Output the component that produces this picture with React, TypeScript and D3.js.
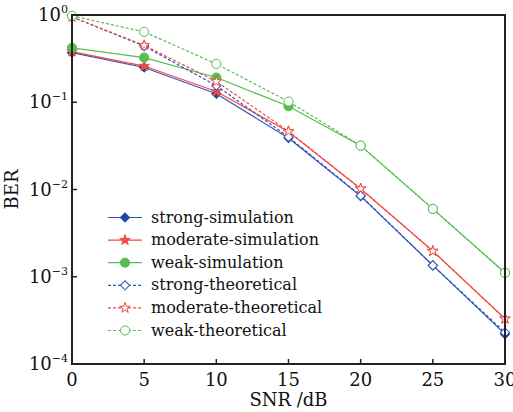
import React from "react";
import * as d3 from "d3";

const snr = [0, 5, 10, 15, 20, 25, 30];
const strongSim = [0.37, 0.25, 0.125, 0.039, 0.0084, 0.00135, 0.00022];
const moderateSim = [0.38, 0.26, 0.133, 0.046, 0.0102, 0.00197, 0.00033];
const weakSim = [0.42, 0.325, 0.192, 0.09, 0.0318, 0.006, 0.00111];
const strongTheo = [0.95, 0.44, 0.155, 0.04, 0.0085, 0.00135, 0.00023];
const moderateTheo = [0.95, 0.45, 0.173, 0.0465, 0.0102, 0.00197, 0.00033];
const weakTheo = [0.98, 0.64, 0.275, 0.102, 0.0318, 0.006, 0.00111];
const yTicks = [1, 0.1, 0.01, 0.001, 0.0001];
const yExps = ["0", "−1", "−2", "−3", "−4"];
const xTicks = [0, 5, 10, 15, 20, 25, 30];

const BLUE = "#2f55b8";
const BLUE_DARK = "#1f46a6";
const RED = "#f24a45";
const GREEN = "#55bf4f";

type Series = {
  name: string;
  values: number[];
  color: string;
  dashed: boolean;
  marker: "diamond" | "star" | "circle";
  filled: boolean;
};

const series: Series[] = [
  { name: "strong-simulation", values: strongSim, color: BLUE, dashed: false, marker: "diamond", filled: true },
  { name: "moderate-simulation", values: moderateSim, color: RED, dashed: false, marker: "star", filled: true },
  { name: "weak-simulation", values: weakSim, color: GREEN, dashed: false, marker: "circle", filled: true },
  { name: "strong-theoretical", values: strongTheo, color: BLUE, dashed: true, marker: "diamond", filled: false },
  { name: "moderate-theoretical", values: moderateTheo, color: RED, dashed: true, marker: "star", filled: false },
  { name: "weak-theoretical", values: weakTheo, color: GREEN, dashed: true, marker: "circle", filled: false },
];

const W = 513;
const H = 412;
const M = { left: 72, right: 8, top: 15, bottom: 48 };

const x = d3.scaleLinear().domain([0, 30]).range([M.left, W - M.right]);
const y = d3.scaleLog().domain([1e-4, 1]).range([H - M.bottom, M.top]);

const symbolFor = (m: string) =>
  m === "diamond"
    ? d3.symbol().type(d3.symbolSquare).size(42)
    : m === "star"
    ? d3.symbol().type(d3.symbolStar).size(34)
    : d3.symbol().type(d3.symbolCircle).size(66);

function Marker({ s, cx, cy }: { s: Series; cx: number; cy: number }) {
  const path = symbolFor(s.marker)()!;
  const fill = s.filled ? (s.marker === "diamond" ? BLUE_DARK : s.color) : "#fff";
  const rot = s.marker === "diamond" ? " rotate(45)" : "";
  return (
    <path
      d={path}
      transform={`translate(${cx},${cy})${rot}`}
      fill={fill}
      stroke={s.filled ? fill : s.color}
      strokeWidth={1}
    />
  );
}

export default function App() {
  const line = d3
    .line<number>()
    .x((_, i) => x(snr[i]))
    .y((d) => y(d));
  const font = "'DejaVu Serif', 'Liberation Serif', serif";
  const legendX0 = 108;
  const legendX1 = 142;
  const legendText = 151;
  const legendY0 = 217.5;
  const legendDy = 22.6;
  return (
    <svg width={W} height={H} style={{ position: "absolute", left: 0, top: 0 }} fontFamily={font}>
      <rect width={W} height={H} fill="#fff" />
      {/* series */}
      {series.map((s) => (
        <g key={s.name}>
          <path
            d={line(s.values)!}
            fill="none"
            stroke={s.color}
            strokeWidth={1.2}
            strokeDasharray={s.dashed ? "3,2" : undefined}
          />
          {s.values.map((v, i) => (
            <Marker key={i} s={s} cx={x(snr[i])} cy={y(v)} />
          ))}
        </g>
      ))}
      {/* frame */}
      <rect
        x={M.left}
        y={M.top}
        width={W - M.right - M.left}
        height={H - M.bottom - M.top}
        fill="none"
        stroke="#222"
        strokeWidth={2}
      />
      {/* y ticks */}
      {yTicks.map((t, i) => (
        <g key={t}>
          <line x1={M.left} x2={M.left + 5} y1={y(t)} y2={y(t)} stroke="#222" strokeWidth={1.5} />
          <text x={M.left - 4} y={y(t) + 6} textAnchor="end" fontSize={18} fill="#111">
            10
            <tspan dy={-8} fontSize={11}>
              {yExps[i]}
            </tspan>
          </text>
        </g>
      ))}
      {/* x ticks */}
      {xTicks.map((t) => (
        <g key={t}>
          <line x1={x(t)} x2={x(t)} y1={H - M.bottom} y2={H - M.bottom - 5} stroke="#222" strokeWidth={1.5} />
          <text x={x(t)} y={H - M.bottom + 22} textAnchor="middle" fontSize={18} fill="#111">
            {t}
          </text>
        </g>
      ))}
      <text x={(M.left + W - M.right) / 2} y={H - 6} textAnchor="middle" fontSize={18} fill="#111">
        SNR /dB
      </text>
      <text
        transform={`translate(${18},${(M.top + H - M.bottom) / 2}) rotate(-90)`}
        textAnchor="middle"
        fontSize={18}
        fill="#111"
      >
        BER
      </text>
      {/* legend */}
      {series.map((s, i) => {
        const ly = legendY0 + i * legendDy;
        return (
          <g key={s.name}>
            <line
              x1={legendX0}
              x2={legendX1}
              y1={ly}
              y2={ly}
              stroke={s.color}
              strokeWidth={1.2}
              strokeDasharray={s.dashed ? "3,2" : undefined}
            />
            <Marker s={s} cx={(legendX0 + legendX1) / 2} cy={ly} />
            <text x={legendText} y={ly + 5} fontSize={16} fill="#111">
              {s.name}
            </text>
          </g>
        );
      })}
    </svg>
  );
}
